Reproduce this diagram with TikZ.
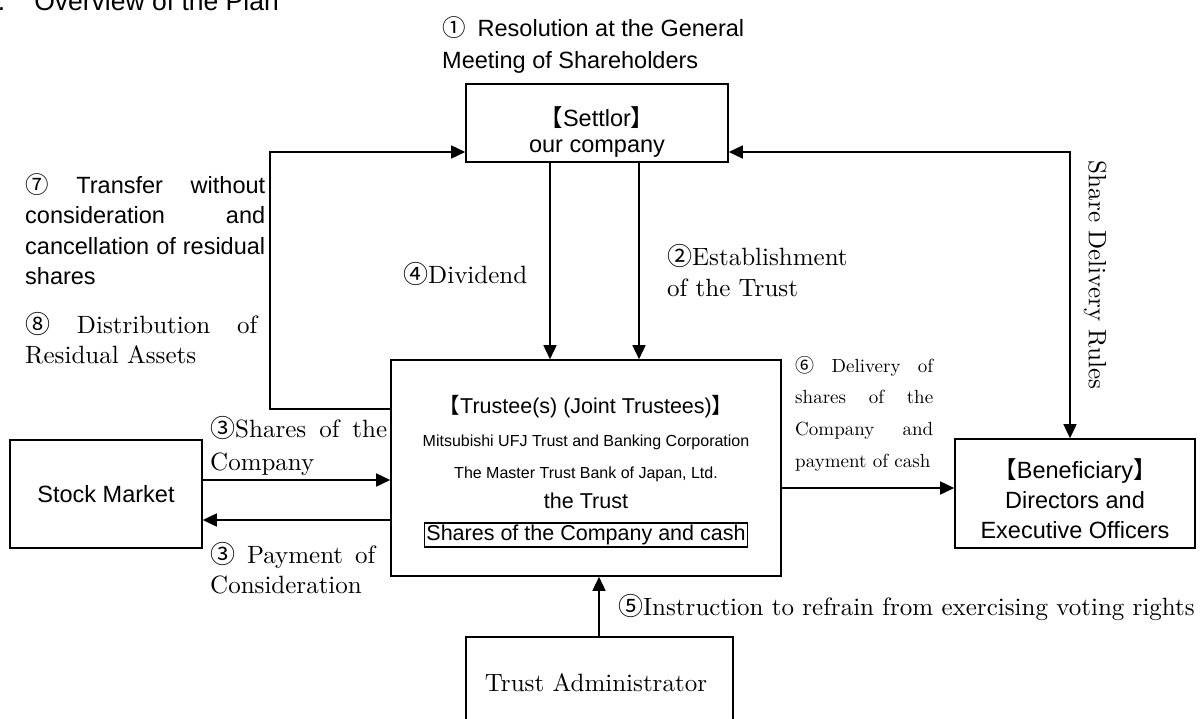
\documentclass[tikz,border=0pt]{standalone}
\usepackage{fontspec}
\setmainfont{lmroman10-regular.otf}
\setsansfont{Liberation Sans}
\newfontfamily\cjk{Noto Sans CJK JP}
\usetikzlibrary{arrows.meta}
\newcommand\cn[1]{{\cjk #1}}
\begin{document}
\begin{tikzpicture}[x=1pt,y=-1pt,
  box/.style={draw,line width=1.6pt,inner sep=0pt},
  conn/.style={line width=1.6pt},
  tip/.style={-{Triangle[length=14pt,width=13pt]}},
  dtip/.style={{Triangle[length=14pt,width=13pt]}-{Triangle[length=14pt,width=13pt]}},
  sf/.style={font=\sffamily\fontsize{23.5}{28}\selectfont,inner sep=0pt},
  sfm/.style={font=\sffamily\fontsize{21.5}{26}\selectfont,inner sep=0pt},
  sfs/.style={font=\sffamily\fontsize{16}{20}\selectfont,inner sep=0pt},
  rm/.style={font=\rmfamily\fontsize{25}{30}\selectfont,inner sep=0pt},
  rms/.style={font=\rmfamily\fontsize{19}{23}\selectfont,inner sep=0pt}]
\useasboundingbox (0,0) rectangle (1204,718);

% boxes
\node[box,minimum width=262pt,minimum height=78pt] (settlor) at (597,123) {};
\node[box,minimum width=390pt,minimum height=216pt] (trust) at (586,468) {};
\node[box,minimum width=192pt,minimum height=108pt] (stock) at (106,494) {};
\node[box,minimum width=240pt,minimum height=109pt] (benef) at (1075,493.5) {};
\node[box,minimum width=267pt,minimum height=126pt] (admin) at (599.5,700) {};

% title
\node[font=\sffamily\fontsize{26.5}{30}\selectfont,inner sep=0pt,anchor=base west] (title) at (-17,10) {1.\hspace{29pt}Overview of the Plan};

% resolution
\node[sf,anchor=base west] (res1) at (442,36) {\cn{①}\hspace{12pt}Resolution at the General};
\node[sf,anchor=base west] (res2) at (442,68) {Meeting of Shareholders};

% settlor text
\node[sf,anchor=base] (set1) at (597,126) {\cn{【}Settlor\cn{】}};
\node[sf,anchor=base] (set2) at (597,152) {our company};

% left block
\node[sf,anchor=base west] (l1) at (25,193) {\makebox[240pt][s]{\cn{⑦} Transfer without}};
\node[sf,anchor=base west] (l2) at (25,223) {\makebox[240pt][s]{consideration and}};
\node[sf,anchor=base west] (l3) at (25,254) {\makebox[240pt][s]{cancellation of residual}};
\node[sf,anchor=base west] (l4) at (25,284) {shares};
\node[rm,anchor=base west] (l5) at (25,333) {\makebox[232pt][s]{\cn{⑧} Distribution of}};
\node[rm,anchor=base west] (l6) at (25,363) {Residual Assets};

% dividend / establishment
\node[rm,anchor=base west] (div) at (403,283) {\cn{④}Dividend};
\node[rm,anchor=base west] (est1) at (667,265) {\cn{②}Establishment};
\node[rm,anchor=base west] (est2) at (667,296) {of the Trust};

% trust texts
\node[sfm,anchor=base] (t1) at (586,413) {\cn{【}Trustee(s) (Joint Trustees)\cn{】}};
\node[sfs,anchor=base] (t2) at (586,446) {Mitsubishi UFJ Trust and Banking Corporation};
\node[sfs,anchor=base] (t3) at (586,478) {The Master Trust Bank of Japan, Ltd.};
\node[sfm,anchor=base] (t4) at (586,508) {the Trust};
\node[sfm,draw,line width=1.3pt,inner sep=2pt] (t5) at (586,535) {Shares of the Company and cash};

% stock market
\node[sf,anchor=base] (sm) at (106,502) {Stock Market};
\node[rm,anchor=base west] (sh1) at (210,437) {\makebox[177pt][s]{\cn{③}Shares of the}};
\node[rm,anchor=base west] (sh2) at (210,470) {Company};
\node[rm,anchor=base west] (pc1) at (210,563) {\makebox[165pt][s]{\cn{③} Payment of}};
\node[rm,anchor=base west] (pc2) at (210,593) {Consideration};

% delivery
\node[rms,anchor=base west] (d1) at (795,372) {\makebox[138pt][s]{\cn{⑥} Delivery of}};
\node[rms,anchor=base west] (d2) at (795,403) {\makebox[138pt][s]{shares of the}};
\node[rms,anchor=base west] (d3) at (795,435) {\makebox[138pt][s]{Company and}};
\node[rms,anchor=base west] (d4) at (795,467) {payment of cash};

% beneficiary
\node[sf,anchor=base] (b1) at (1075,478) {\cn{【}Beneficiary\cn{】}};
\node[sf,anchor=base] (b2) at (1075,508) {Directors and};
\node[sf,anchor=base] (b3) at (1075,538) {Executive Officers};

% instruction / admin
\node[rm,anchor=base west] (ins) at (618,615) {\cn{⑤}Instruction to refrain from exercising voting rights};
\node[rm,anchor=base] (adm) at (596,691) {Trust Administrator};

% share delivery rules
\node[rm,rotate=-90] (sdr) at (1095,275) {Share Delivery Rules};

% connectors
\coordinate (lt) at (270,152);
\coordinate (lb) at (270,409);
\draw[conn,tip] (trust.west |- lb) -- (lb) -- (lt) -- (settlor.west |- lt);
\coordinate (rt) at (1070,152);
\draw[conn,dtip] (settlor.east |- rt) -- (rt) -- (benef.north -| rt);
\coordinate (dv) at (550,0);
\draw[conn,tip] (dv |- settlor.south) -- (dv |- trust.north);
\coordinate (es) at (639,0);
\draw[conn,tip] (es |- settlor.south) -- (es |- trust.north);
\coordinate (s1) at (0,480);
\draw[conn,tip] (stock.east |- s1) -- (trust.west |- s1);
\coordinate (s2) at (0,520);
\draw[conn,tip] (trust.west |- s2) -- (stock.east |- s2);
\coordinate (bn) at (0,488);
\draw[conn,tip] (trust.east |- bn) -- (benef.west |- bn);
\coordinate (ad) at (599,0);
\draw[conn,tip] (ad |- admin.north) -- (ad |- trust.south);
\end{tikzpicture}
\end{document}
